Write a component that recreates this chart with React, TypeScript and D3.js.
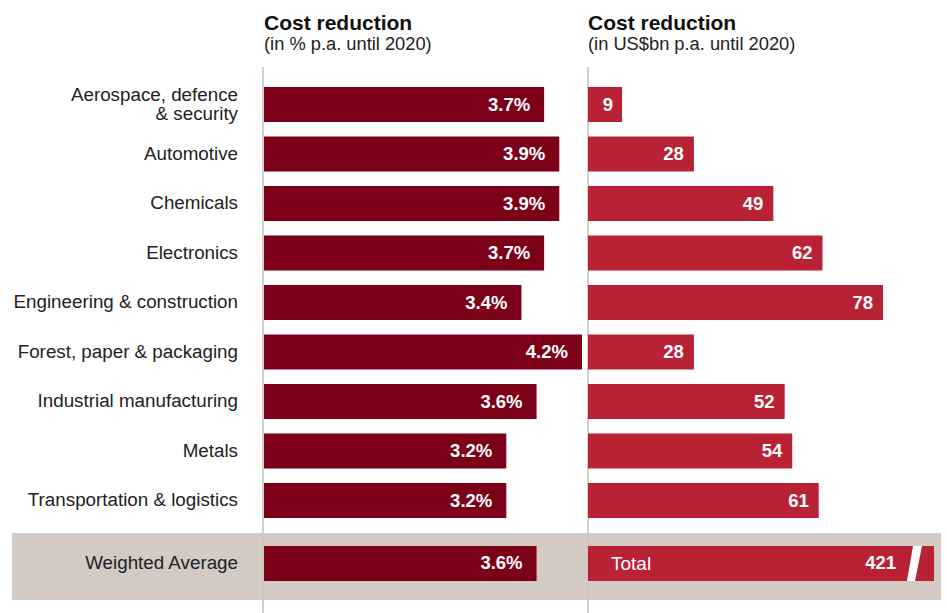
import * as d3 from 'd3'
import { useEffect } from 'react'

const categories = [
  ['Aerospace, defence', '& security'],
  ['Automotive'],
  ['Chemicals'],
  ['Electronics'],
  ['Engineering & construction'],
  ['Forest, paper & packaging'],
  ['Industrial manufacturing'],
  ['Metals'],
  ['Transportation & logistics'],
]
const percentValues = [3.7, 3.9, 3.9, 3.7, 3.4, 4.2, 3.6, 3.2, 3.2]
const billionValues = [9, 28, 49, 62, 78, 28, 52, 54, 61]
const averageLabel = 'Weighted Average'
const averagePercent = 3.6
const totalLabel = 'Total'
const totalBillion = 421

const W = 947
const H = 613
const FONT = '"Liberation Sans", Arial, Helvetica, sans-serif'
const DARK = '#7d0019'
const RED = '#b92234'
const BAND = '#d3cac3'
const RULE = '#c8c1bb'
const LABEL = 18.8

export default function App() {
  useEffect(() => {
    document.body.style.margin = '0'
  }, [])

  const keys = categories.map((c) => c.join(' '))
  const y = d3.scaleBand<string>().domain(keys).range([79.75, 525.25]).paddingInner(0.293).paddingOuter(0.1465)
  const bh = y.bandwidth()
  const xL = d3.scaleLinear().domain([0, 4.2]).range([264, 582])
  const xR = d3.scaleLinear().domain([0, 78]).range([588, 883])
  const avgTop = 546
  const totalEnd = 934

  return (
    <svg width={W} height={H} style={{ display: 'block', fontFamily: FONT }}>
      <rect x={12} y={533} width={929} height={67} fill={BAND} />
      <line x1={263} x2={263} y1={67} y2={H} stroke={RULE} strokeWidth={1.5} />
      <line x1={588} x2={588} y1={67} y2={H} stroke={RULE} strokeWidth={1.5} />

      <text x={264} y={30} fontSize={21} fontWeight="bold" fill="#111">Cost reduction</text>
      <text x={264} y={50} fontSize={18.3} fill="#222">(in % p.a. until 2020)</text>
      <text x={588} y={30} fontSize={21} fontWeight="bold" fill="#111">Cost reduction</text>
      <text x={588} y={50} fontSize={18.3} fill="#222">(in US$bn p.a. until 2020)</text>

      {categories.map((lines, i) => {
        const k = keys[i]
        const cy = (y(k) ?? 0) + bh / 2
        return (
          <g key={k}>
            <text x={238} y={cy + 5.5 - (lines.length - 1) * 9.5} fontSize={LABEL} fill="#222" textAnchor="end">
              {lines.map((l, j) => (
                <tspan key={j} x={238} dy={j === 0 ? 0 : 19}>{l}</tspan>
              ))}
            </text>
            <rect x={xL(0)} y={y(k)} width={xL(percentValues[i]) - xL(0)} height={bh} fill={DARK} />
            <text x={xL(percentValues[i]) - 14} y={cy + 6} fontSize={18.5} fontWeight="bold" fill="#fff" textAnchor="end">
              {d3.format('.1f')(percentValues[i])}%
            </text>
            <rect x={xR(0)} y={y(k)} width={xR(billionValues[i]) - xR(0)} height={bh} fill={RED} />
            <text x={xR(billionValues[i]) - (billionValues[i] < 10 ? 9 : 10)} y={cy + 6} fontSize={18.5} fontWeight="bold" fill="#fff" textAnchor="end">
              {billionValues[i]}
            </text>
          </g>
        )
      })}

      <text x={238} y={avgTop + bh / 2 + 5.5} fontSize={LABEL} fill="#222" textAnchor="end">{averageLabel}</text>
      <rect x={xL(0)} y={avgTop} width={xL(averagePercent) - xL(0)} height={bh} fill={DARK} />
      <text x={xL(averagePercent) - 14} y={avgTop + bh / 2 + 6} fontSize={18.5} fontWeight="bold" fill="#fff" textAnchor="end">
        {d3.format('.1f')(averagePercent)}%
      </text>
      <rect x={xR(0)} y={avgTop} width={totalEnd - xR(0)} height={bh} fill={RED} />
      <text x={611} y={avgTop + bh / 2 + 7} fontSize={19} fill="#fff">{totalLabel}</text>
      <text x={896} y={avgTop + bh / 2 + 6} fontSize={18.5} fontWeight="bold" fill="#fff" textAnchor="end">{totalBillion}</text>
      <polygon
        points={`913,${avgTop} 922,${avgTop} 915,${avgTop + bh} 907,${avgTop + bh}`}
        fill="#fff"
      />
    </svg>
  )
}
